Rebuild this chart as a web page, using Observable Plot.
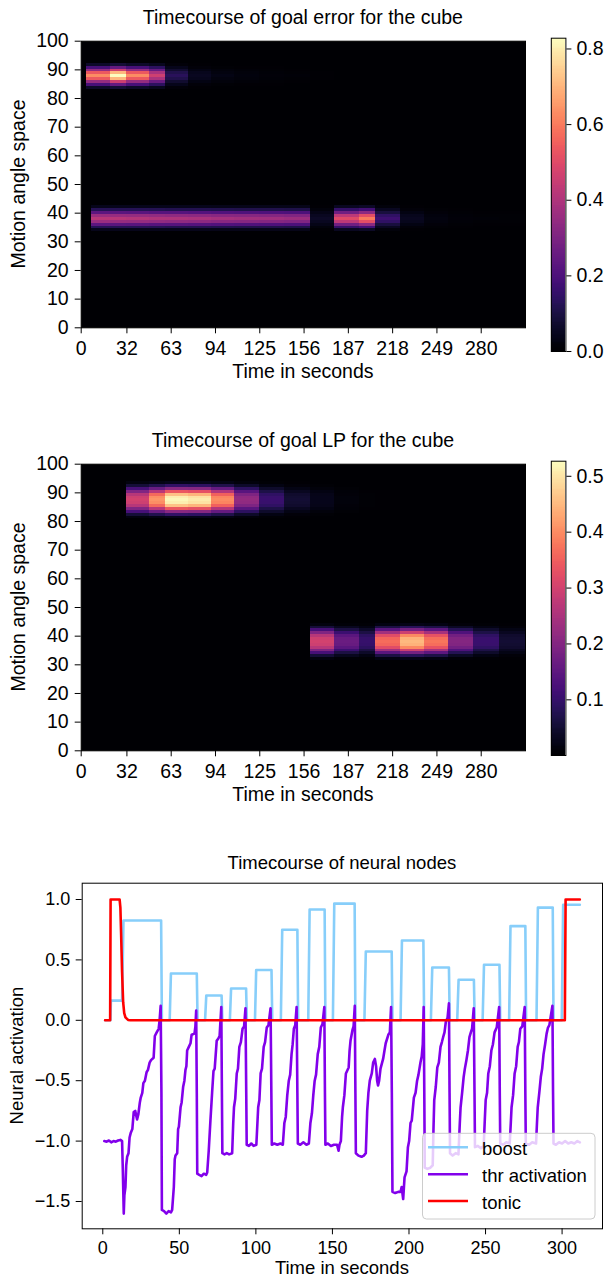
<!DOCTYPE html>
<html>
<head>
<meta charset="utf-8">
<script src="https://cdn.jsdelivr.net/npm/d3@7"></script>
<script src="https://cdn.jsdelivr.net/npm/@observablehq/plot@0.6"></script>
<style>
  body { margin: 0; background: #fff; }
  #page { position: relative; width: 605px; height: 1277px; overflow: hidden; background: #fff;
          font-family: "Liberation Sans", Arial, Helvetica, sans-serif; }
  .pos { position: absolute; }
  .pos svg { display: block; }
</style>
</head>
<body>
<div id="page"></div>
<script>
// ---------------- DATA ----------------
const titles = ["Timecourse of goal error for the cube", "Timecourse of goal LP for the cube", "Timecourse of neural nodes"];
const xLabel = "Time in seconds";
const heatYLabel = "Motion angle space";
const nodeYLabel = "Neural activation";
const legendLabels = ["boost", "thr activation", "tonic"];

// heatmap time bins (seconds) and axis ticks
const timeEdges = [4, 7, 20.5, 31.8, 48, 59.3, 75, 91, 107, 124.8, 142.6, 160.5, 177.3, 195, 206.3, 223.2, 240, 256.9, 274.4, 292.6, 311];
const heatXTicks = [0, 32, 63, 94, 125, 156, 187, 218, 249, 280];
const angleTicks = [0, 10, 20, 30, 40, 50, 60, 70, 80, 90, 100];

// band centres (motion angle) and vertical profiles
const errorCenters = [87.8, 38];
const lpCenters = [87.4, 38];
const errorProfile = [0.1, 0.3, 0.55, 0.85, 1, 0.85, 0.55, 0.3, 0.1];
const lpProfile = [0.05, 0.18, 0.4, 0.65, 0.88, 0.98, 1, 0.98, 0.88, 0.65, 0.4, 0.18, 0.05];

// goal error per time bin
const errorTop    = [0.63, 0.63, 0.83, 0.63, 0.46, 0.13, 0.05, 0.03, 0.02, 0.015, 0.01, 0.005, 0.003, 0.002, 0, 0, 0, 0, 0, 0];
const errorBottom = [0, 0.42, 0.415, 0.41, 0.40, 0.395, 0.39, 0.38, 0.375, 0.37, 0.36, 0.06, 0.5, 0.6, 0.17, 0.05, 0.025, 0.015, 0.01, 0.008];
// goal LP per time bin
const lpTop    = [0, 0, 0, 0.30, 0.41, 0.52, 0.505, 0.40, 0.22, 0.105, 0.05, 0.027, 0.012, 0.006, 0.004, 0.002, 0, 0, 0, 0];
const lpBottom = [0, 0, 0, 0, 0, 0, 0, 0, 0, 0, 0, 0.30, 0.165, 0.10, 0.365, 0.45, 0.375, 0.20, 0.105, 0.05];

const errorColorDomain = [0, 0.8285];
const lpColorDomain = [0.0004, 0.527];
const errorBarTicks = [0, 0.2, 0.4, 0.6, 0.8];
const lpBarTicks = [0.1, 0.2, 0.3, 0.4, 0.5];

// neural nodes
const nodeXTicks = [0, 50, 100, 150, 200, 250, 300];
const nodeYTicks = [-1.5, -1, -0.5, 0, 0.5, 1];

const boostPoints = [[1.5,0],[5,0],[5.3,0.163],[12.6,0.163],[13.5,0.826],[38.1,0.826],[38.6,0],[43.7,0],[44.5,0.387],[61.4,0.387],[61.9,0],[66.8,0],[67.6,0.205],[77.6,0.205],[78.1,0],[83,0],[83.8,0.263],[93.6,0.263],[94.1,0],[99.4,0],[100.2,0.417],[110.2,0.417],[110.7,0],[116.3,0],[117.2,0.75],[127.1,0.75],[127.6,0],[134.2,0],[135.1,0.917],[144.9,0.917],[145.4,0],[150.3,0],[151.2,0.966],[164.5,0.966],[165,0],[170.9,0],[171.8,0.57],[188.7,0.57],[189.2,0],[194.5,0],[195.4,0.661],[209.4,0.661],[209.9,0],[214.3,0],[215.2,0.437],[226.1,0.437],[226.6,0],[231.5,0],[232.4,0.336],[242.4,0.336],[242.9,0],[248.1,0],[249,0.46],[259.1,0.46],[259.6,0],[265.4,0],[266.3,0.78],[276,0.78],[276.5,0],[283.3,0],[284.2,0.933],[293.9,0.933],[294.4,0],[299.8,0],[300.7,0.956],[311.6,0.956]];

const thrPoints = [[1,-1.0],[2.5,-1.005],[4,-0.995],[5.5,-1.01],[7,-1.0],[8.5,-1.005],[10,-0.995],[11.5,-0.99],[12.6,-1.0],[13.1,-1.25],[13.7,-1.6],[14.1,-1.45],[14.8,-1.38],[15.3,-1.2],[15.9,-1.13],[16.8,-1.1],[17.5,-0.97],[18.3,-0.93],[19.3,-0.9],[20.2,-0.76],[21.2,-0.75],[22.4,-0.82],[23.2,-0.78],[24.2,-0.68],[24.8,-0.64],[25.8,-0.6],[26.5,-0.52],[27.5,-0.5],[28.6,-0.43],[29.5,-0.41],[30.6,-0.35],[31.5,-0.33],[33.2,-0.31],[34.0,-0.13],[35.2,-0.1],[36.5,-0.07],[37.1,0.0],[37.8,0.12],[38.3,-0.6],[38.6,-1.57],[40,-1.58],[41.5,-1.6],[43,-1.58],[44.5,-1.59],[45.3,-1.57],
[46.4,-1.38],[47.0,-1.15],[47.5,-1.12],[48.6,-1.1],[49.2,-0.9],[49.7,-0.88],[50.8,-0.72],[51.5,-0.68],[52.5,-0.55],[53.3,-0.5],[54.0,-0.41],[54.6,-0.38],[55.1,-0.25],[56.2,-0.22],[57.3,-0.19],[58.0,-0.12],[59.9,-0.11],[60.5,-0.05],[61.0,0.08],[61.4,-0.6],[61.7,-1.27],[63,-1.28],[64.5,-1.29],[66,-1.27],[67.5,-1.28],[68.2,-1.26],
[69.2,-1.08],[70.3,-0.83],[71.4,-0.6],[72.3,-0.42],[73.1,-0.4],[74.4,-0.17],[75.5,-0.15],[76.3,-0.13],[77.4,0.11],[77.8,-0.6],[78.1,-1.1],[79.5,-1.11],[81,-1.1],[82.5,-1.11],[84.5,-1.1],
[85.2,-0.85],[85.7,-0.72],[86.5,-0.65],[87.5,-0.44],[88.3,-0.4],[89.2,-0.22],[90.2,-0.18],[91.3,-0.07],[92.3,-0.05],[93.2,0.1],[93.7,-0.6],[94.0,-1.03],[95.5,-1.04],[97,-1.02],[98.5,-1.04],[100.3,-1.03],
[101,-0.85],[101.5,-0.72],[102.3,-0.66],[103.1,-0.44],[104,-0.4],[105.1,-0.22],[106,-0.18],[107.1,-0.06],[108.2,-0.04],[109.6,0.1],[110.1,-0.6],[110.4,-1.03],[112,-1.02],[114,-1.03],[116,-1.02],[117.6,-1.03],
[118.6,-0.85],[119.5,-0.8],[120.5,-0.62],[121.5,-0.5],[122.4,-0.45],[123.3,-0.28],[124.0,-0.2],[124.8,-0.07],[125.7,-0.04],[126.6,0.11],[127.1,-0.6],[127.4,-1.02],[129,-1.03],[131,-1.01],[133,-1.03],[134.6,-1.02],
[135.6,-0.85],[136.6,-0.77],[137.5,-0.62],[138.4,-0.5],[139.3,-0.45],[140.4,-0.28],[141.4,-0.22],[142.4,-0.06],[143.5,-0.03],[144.7,0.11],[145.1,-0.6],[145.4,-1.03],[147,-1.02],[149,-1.04],[151,-1.03],[153,-1.03],[154.0,-1.08],[154.6,-1.03],[155.5,-1.0],
[156.3,-0.8],[156.8,-0.72],[157.8,-0.62],[158.8,-0.44],[160.6,-0.39],[161.2,-0.25],[161.8,-0.17],[163.1,-0.08],[163.8,-0.05],[164.6,0.12],[165.0,-0.6],[165.3,-1.1],[167,-1.12],[169,-1.13],[170.5,-1.12],[171.8,-1.1],
[172.7,-0.75],[173.5,-0.6],[174.4,-0.5],[175.7,-0.44],[176.6,-0.35],[177.7,-0.32],[178.5,-0.38],[179.2,-0.5],[179.8,-0.54],[180.5,-0.5],[181.4,-0.4],[183.1,-0.32],[184.0,-0.25],[184.8,-0.19],[186.5,-0.12],[187.5,-0.1],[188.3,0.11],[188.8,-0.6],[189.2,-1.42],[191,-1.43],[193,-1.42],[194.5,-1.42],[195.2,-1.38],[196.2,-1.48],
[197.1,-1.3],[198.4,-1.25],[199.3,-1.05],[200.1,-1.0],[201,-0.85],[201.8,-0.83],[203.2,-0.64],[204.3,-0.6],[205.3,-0.5],[206.2,-0.45],[207.5,-0.35],[208.3,-0.3],[209.0,-0.2],[209.6,0.11],[210.0,-0.6],[210.3,-1.22],[212,-1.23],[214,-1.22],[215.5,-1.2],
[216,-0.9],[216.5,-0.66],[217.5,-0.55],[218.5,-0.39],[219.5,-0.35],[220.6,-0.22],[221.5,-0.18],[222.3,-0.14],[223.2,-0.1],[224.1,-0.01],[225.2,0.02],[226.1,0.14],[226.5,-0.6],[226.8,-1.1],[228.5,-1.12],[230.5,-1.1],[232.3,-1.11],
[233.2,-0.85],[233.7,-0.72],[234.7,-0.6],[235.7,-0.47],[236.5,-0.4],[237.5,-0.33],[238.5,-0.25],[239.5,-0.14],[240.4,-0.1],[241.2,-0.07],[242.3,0.1],[242.8,-0.6],[243.1,-1.05],[245,-1.04],[247,-1.06],[248.8,-1.04],
[249.6,-0.8],[250.1,-0.66],[251,-0.6],[251.8,-0.44],[252.8,-0.38],[253.8,-0.25],[254.8,-0.2],[255.9,-0.1],[257.3,-0.06],[258.9,0.11],[259.3,-0.6],[259.6,-1.02],[261.5,-1.03],[263.5,-1.01],[265.8,-1.02],
[266.5,-0.85],[267,-0.72],[268,-0.62],[269,-0.44],[270,-0.38],[271,-0.22],[271.8,-0.18],[272.7,-0.07],[274,-0.05],[275.6,0.11],[276,-0.6],[276.3,-1.02],[278.5,-1.03],[280.5,-1.01],[283,-1.02],
[283.6,-0.85],[284.1,-0.72],[285.1,-0.6],[286.1,-0.47],[287,-0.4],[287.9,-0.28],[288.9,-0.2],[289.9,-0.11],[290.8,-0.06],[291.7,-0.04],[293.7,0.12],[294.1,-0.6],[294.4,-1.02],[296,-1.03],[298,-1.01],[300,-1.02],[302,-1.0],[304,-1.02],[306,-1.01],[308,-1.02],[310,-1.0],[311.6,-1.01]];

const tonicPoints = [[1.5,0],[4.8,0],[5.1,1],[11,1],[11.5,0.93],[12,0.7],[12.6,0.4],[13.3,0.15],[14,0.06],[14.8,0.025],[16.5,0.003],[18,0],[301.8,0],[302.3,1],[311.6,1]];

const seriesColors = {boost: "#87cefa", thr: "#8200eb", tonic: "#ff0000"};

// ---------------- HELPERS ----------------
const FONT = '"Liberation Sans", Arial, Helvetica, sans-serif';
const page = document.getElementById("page");
function place(el, left, top) {
  const d = document.createElement("div");
  d.className = "pos";
  d.style.left = left + "px";
  d.style.top = top + "px";
  d.appendChild(el);
  page.appendChild(d);
}
function bandCells(values, center, profile) {
  const half = (profile.length - 1) / 2;
  const out = [];
  values.forEach((v, i) => {
    if (!v) return;
    profile.forEach((w, k) => {
      out.push({x1: timeEdges[i], x2: timeEdges[i + 1], y1: center + k - half - 0.5, y2: center + k - half + 0.5, value: v * w});
    });
  });
  return out;
}
const toObj = pts => pts.map(([t, v]) => ({t, v}));

function heatmap(cells, colorDomain) {
  return Plot.plot({
    width: 545, height: 375,
    marginLeft: 80.7, marginRight: 20, marginTop: 40.7, marginBottom: 47.7,
    style: {fontFamily: FONT, fontSize: "19.5px", color: "black", background: "transparent", maxWidth: "none", overflow: "visible"},
    x: {domain: [0, 311], ticks: heatXTicks, tickSize: 6, tickPadding: 7, label: null},
    y: {domain: [0, 100], ticks: angleTicks, tickSize: 6, tickPadding: 6.5, label: null},
    color: {type: "linear", scheme: "magma", domain: colorDomain},
    marks: [
      Plot.frame({fill: "#000004"}),
      Plot.rect(cells, {x1: "x1", x2: "x2", y1: "y1", y2: "y2", fill: "value", shapeRendering: "crispEdges"}),
      Plot.frame({stroke: "black", strokeWidth: 1})
    ]
  });
}
function colorbar(colorDomain, ticks, height, mTop, mBottom) {
  const n = 240;
  const stripes = d3.range(n).map(i => ({
    y1: colorDomain[0] + (colorDomain[1] - colorDomain[0]) * i / n,
    y2: colorDomain[0] + (colorDomain[1] - colorDomain[0]) * (i + 1) / n
  }));
  return Plot.plot({
    width: 65, height,
    marginLeft: 10.8, marginRight: 39.6, marginTop: mTop, marginBottom: mBottom,
    style: {fontFamily: FONT, fontSize: "19.5px", color: "black", background: "transparent", maxWidth: "none", overflow: "visible"},
    x: {domain: [0, 1], axis: null},
    y: {domain: colorDomain, axis: "right", ticks, tickFormat: d3.format(".1f"), tickSize: 5, tickPadding: 5.5, label: null},
    color: {type: "linear", scheme: "magma", domain: colorDomain},
    marks: [
      Plot.rect(stripes, {x1: () => 0, x2: () => 1, y1: "y1", y2: "y2", fill: d => (d.y1 + d.y2) / 2, shapeRendering: "crispEdges"}),
      Plot.frame({stroke: "black", strokeWidth: 1})
    ]
  });
}

// ---------------- PANEL 1: goal error ----------------
const errorCells = [...bandCells(errorTop, errorCenters[0], errorProfile), ...bandCells(errorBottom, errorCenters[1], errorProfile)];
place(heatmap(errorCells, errorColorDomain), 0, 0);
place(colorbar(errorColorDomain, errorBarTicks, 350, 17.7, 19), 540, 20);

// ---------------- PANEL 2: goal LP ----------------
const lpCells = [...bandCells(lpTop, lpCenters[0], lpProfile), ...bandCells(lpBottom, lpCenters[1], lpProfile)];
place(heatmap(lpCells, lpColorDomain), 0, 423.3);
place(colorbar(lpColorDomain, lpBarTicks, 340, 20.7, 25), 540, 440);

// ---------------- PANEL 3: neural nodes ----------------
const minus = s => s.replace("-", "\u2212");
const nodes = Plot.plot({
  width: 605, height: 437,
  marginLeft: 81.7, marginRight: 3, marginTop: 42.7, marginBottom: 48.7,
  style: {fontFamily: FONT, fontSize: "18px", color: "black", background: "transparent", maxWidth: "none", overflow: "visible"},
  x: {domain: [-13.45, 326.4], ticks: nodeXTicks, tickSize: 6, tickPadding: 6, label: null},
  y: {domain: [-1.726, 1.135], ticks: nodeYTicks, tickFormat: d => minus(d3.format(".1f")(d)), tickSize: 6, tickPadding: 6, label: null},
  marks: [
    Plot.line(toObj(boostPoints), {x: "t", y: "v", stroke: seriesColors.boost, strokeWidth: 2.6, strokeLinejoin: "round"}),
    Plot.line(toObj(thrPoints), {x: "t", y: "v", stroke: seriesColors.thr, strokeWidth: 2.6, strokeLinejoin: "round"}),
    Plot.line(toObj(tonicPoints), {x: "t", y: "v", stroke: seriesColors.tonic, strokeWidth: 2.6, strokeLinejoin: "round"}),
    Plot.frame({stroke: "black", strokeWidth: 1})
  ]
});
place(nodes, 0, 840);

// ---------------- TEXT OVERLAY: titles, axis labels, legend ----------------
const ov = d3.create("svg").attr("width", 605).attr("height", 1277)
  .style("position", "absolute").style("left", "0px").style("top", "0px")
  .style("pointer-events", "none").style("font-family", FONT);

function txt(s, x, y, size, rotate) {
  const t = ov.append("text").text(s).attr("font-size", size).attr("fill", "black").attr("text-anchor", "middle");
  if (rotate) t.attr("transform", `translate(${x},${y}) rotate(-90)`);
  else t.attr("x", x).attr("y", y);
}
txt(titles[0], 302.9, 24, 19.5);
txt(xLabel, 302.9, 377.5, 19.5);
txt(heatYLabel, 25, 184, 19.5, true);
txt(titles[1], 302.9, 447, 19.5);
txt(xLabel, 302.9, 801, 19.5);
txt(heatYLabel, 25, 607, 19.5, true);
txt(titles[2], 341.9, 868.5, 18.5);
txt(xLabel, 341.9, 1273.5, 18.5);
txt(nodeYLabel, 23, 1055.5, 18.5, true);

// legend
ov.append("rect").attr("x", 422.5).attr("y", 1133.3).attr("width", 172.5).attr("height", 85.7)
  .attr("rx", 4).attr("fill", "white").attr("fill-opacity", 0.8).attr("stroke", "#cccccc").attr("stroke-width", 1);
const legendColors = [seriesColors.boost, seriesColors.thr, seriesColors.tonic];
const legendY = [1147.3, 1174.3, 1201];
legendLabels.forEach((lab, i) => {
  ov.append("line").attr("x1", 428).attr("x2", 468).attr("y1", legendY[i]).attr("y2", legendY[i])
    .attr("stroke", legendColors[i]).attr("stroke-width", 2.6);
  ov.append("text").text(lab).attr("x", 482).attr("y", legendY[i] + 7.5).attr("font-size", 18.5).attr("fill", "black");
});
page.appendChild(ov.node());
</script>
</body>
</html>
